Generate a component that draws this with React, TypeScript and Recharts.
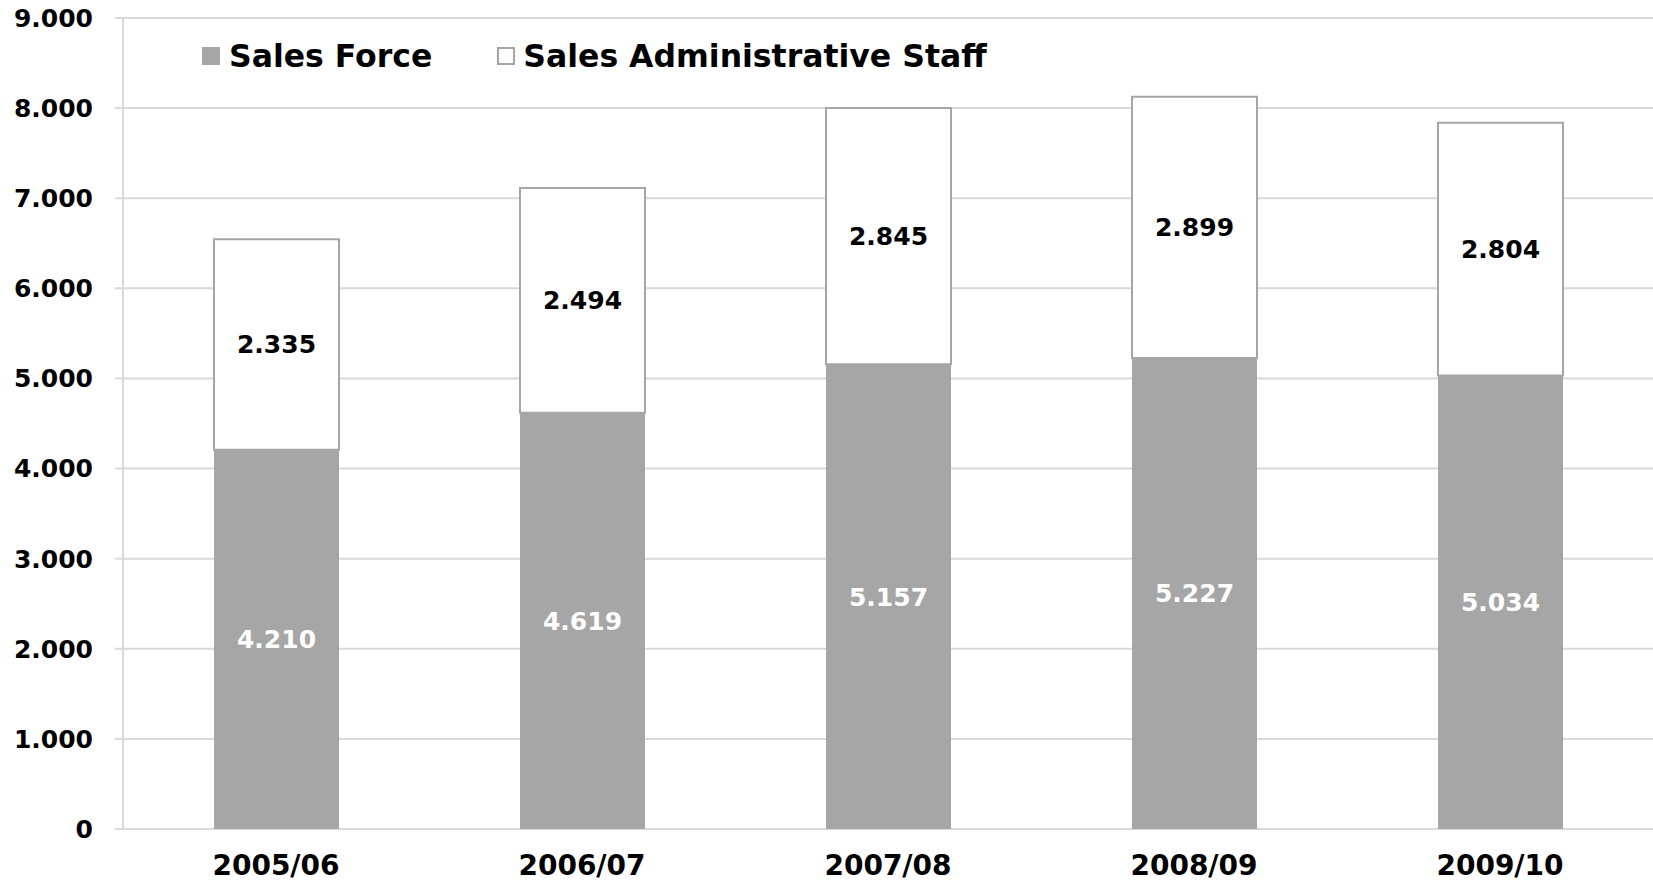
import { BarChart, Bar, XAxis, YAxis, CartesianGrid, LabelList } from 'recharts';

const seasons = ['2005/06', '2006/07', '2007/08', '2008/09', '2009/10'];
const salesForce = [4210, 4619, 5157, 5227, 5034];
const adminStaff = [2335, 2494, 2845, 2899, 2804];
const yTicks = [0, 1000, 2000, 3000, 4000, 5000, 6000, 7000, 8000, 9000];
const bandEdges = [0, 1, 2, 3, 4, 5];

const FONT = '"DejaVu Sans", Verdana, sans-serif';
const GREY = '#a6a6a6';
const GRID = '#d9d9d9';

const data = seasons.map((season, i) => ({
  season,
  salesForce: salesForce[i],
  adminStaff: adminStaff[i],
}));

const fmt = (v: number) => String(v).replace(/\B(?=(\d{3})+(?!\d))/g, '.');

// legend drawn as an overlay so it doesn't push the plot down
const LegendBox = () => (
  <div
    style={{
      position: 'absolute',
      left: 202,
      top: 38,
      display: 'flex',
      alignItems: 'center',
      fontFamily: FONT,
      fontWeight: 'bold',
      fontSize: 31.5,
      color: '#000',
      whiteSpace: 'nowrap',
    }}
  >
    <span style={{ width: 18, height: 18, background: GREY, display: 'inline-block', marginRight: 9 }} />
    <span style={{ marginRight: 65 }}>Sales Force</span>
    <span style={{ width: 14, height: 14, background: '#fff', border: `2px solid ${GREY}`, display: 'inline-block', marginRight: 8 }} />
    <span>Sales Administrative Staff</span>
  </div>
);

const App = () => {
  return (
    <div style={{ position: 'absolute', left: 0, top: 0, width: 1653, height: 883, background: '#fff' }}>
      <BarChart
        width={1653}
        height={883}
        data={data}
        margin={{ top: 18, right: 0, bottom: 0, left: 0 }}
        barCategoryGap="0%"
      >
        <CartesianGrid horizontal vertical={false} stroke={GRID} strokeWidth={2} />
        <XAxis
          xAxisId="edges"
          type="number"
          domain={[0, 5]}
          ticks={bandEdges}
          tick={false}
          height={0}
          axisLine={{ stroke: GRID, strokeWidth: 2 }}
          tickLine={{ stroke: GRID, strokeWidth: 2 }}
          tickSize={9}
        />
        <XAxis
          dataKey="season"
          axisLine={false}
          tickLine={false}
          tickSize={9}
          tickMargin={17}
          height={54}
          interval={0}
          tick={{ fill: '#000', fontSize: 28, fontWeight: 'bold', fontFamily: FONT }}
        />
        <YAxis
          domain={[0, 9000]}
          ticks={yTicks}
          width={123}
          tickFormatter={fmt}
          axisLine={{ stroke: GRID, strokeWidth: 2 }}
          tickLine={{ stroke: GRID, strokeWidth: 2 }}
          tickSize={8}
          tickMargin={22}
          tick={{ fill: '#000', fontSize: 25, fontWeight: 'bold', fontFamily: FONT }}
        />
        <Bar dataKey="salesForce" name="Sales Force" stackId="a" fill={GREY} barSize={125} isAnimationActive={false}>
          <LabelList
            dataKey="salesForce"
            position="center"
            formatter={(v: any) => fmt(Number(v))}
            fill="#fff"
            fontSize={25}
            fontWeight="bold"
            fontFamily={FONT}
          />
        </Bar>
        <Bar
          dataKey="adminStaff"
          name="Sales Administrative Staff"
          stackId="a"
          fill="#fff"
          stroke={GREY}
          strokeWidth={2}
          barSize={125}
          isAnimationActive={false}
        >
          <LabelList
            dataKey="adminStaff"
            position="center"
            formatter={(v: any) => fmt(Number(v))}
            fill="#000"
            fontSize={25}
            fontWeight="bold"
            fontFamily={FONT}
          />
        </Bar>
      </BarChart>
      <LegendBox />
    </div>
  );
};

export default App;
